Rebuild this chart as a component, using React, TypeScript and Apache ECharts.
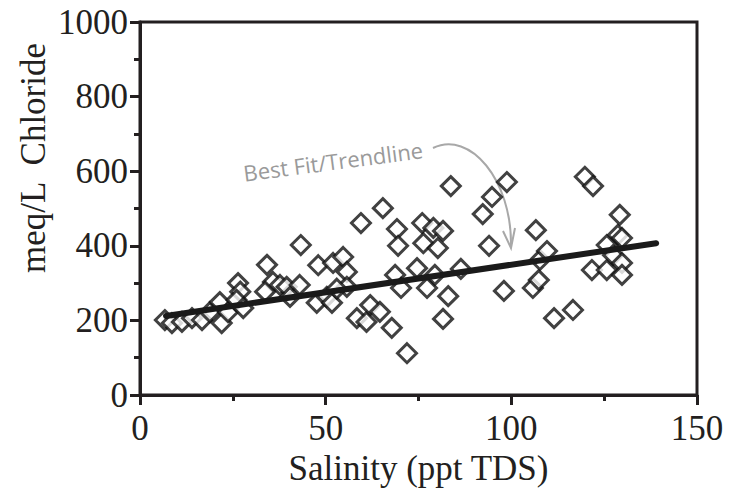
import React, { useEffect, useRef } from "react";
import * as echarts from "echarts";

const salinity = [
  6.7, 8.6, 11.3, 14, 16.7, 18.8, 21.5, 22, 23.7, 26.4, 27, 26, 27.8, 34.2, 35.8, 33.7, 37.7,
  39.5, 40.4, 43, 43.3, 47.6, 48, 50.3, 51.7, 52, 54.7, 55.7, 55.7, 53, 58.4, 59.5, 61, 62,
  64.6, 65.4, 67.8, 68.7, 69.2, 69.5, 70.3, 71.9, 74.6, 76, 76.3, 77.3, 79, 79.4, 80.2, 81.6,
  81.6, 83, 83.7, 86.4, 92.3, 94, 94.8, 98, 98.8, 105.8, 106.6, 107.4, 107.7, 109.6, 111.5,
  116.6, 119.8, 122, 121.7, 125.7, 125.7, 127.4, 128.7, 129.8, 129.2, 129.8, 129.8,
];
const chloride = [
  201, 193, 196, 206, 201, 222, 249, 193, 222, 300, 277, 255, 233, 349, 303, 277, 295,
  290, 263, 295, 402, 247, 348, 263, 247, 354, 370, 330, 290, 285, 206, 461, 196, 241,
  223, 501, 180, 322, 445, 400, 287, 112, 340, 461, 407, 287, 448, 322, 394, 440,
  204, 265, 560, 338, 485, 400, 531, 279, 571, 287, 442, 308, 362, 386, 206,
  228, 585, 560, 335, 402, 335, 375, 429, 421, 483, 354, 322,
];
const trendX = [7, 139];
const trendY = [212, 407];

const INK = "#231f20";
const SERIF = "Liberation Serif";

export default function App() {
  const ref = useRef<HTMLDivElement>(null);
  useEffect(() => {
    document.body.style.margin = "0";
    if (!ref.current) return;
    const chart = echarts.init(ref.current, null, { renderer: "svg" });
    chart.setOption({
      animation: false,
      backgroundColor: "#ffffff",
      textStyle: { fontFamily: SERIF },
      grid: {
        left: 140,
        right: 42,
        top: 22,
        bottom: 99,
        show: true,
        borderColor: INK,
        borderWidth: 3,
        backgroundColor: "transparent",
      },
      xAxis: {
        type: "value",
        min: 0,
        max: 150,
        interval: 50,
        name: "Salinity (ppt TDS)",
        nameLocation: "middle",
        nameGap: 50,
        nameTextStyle: { fontFamily: SERIF, fontSize: 35, color: INK },
        axisLine: { show: true, lineStyle: { color: INK, width: 3 } },
        axisTick: { show: true, length: 10, lineStyle: { color: INK, width: 3 } },
        minorTick: { show: true, splitNumber: 2, length: 6, lineStyle: { color: INK, width: 3 } },
        splitLine: { show: false },
        minorSplitLine: { show: false },
        axisLabel: { fontFamily: SERIF, fontSize: 35, color: INK, margin: 16 },
      },
      yAxis: {
        type: "value",
        min: 0,
        max: 1000,
        interval: 200,
        axisLine: { show: true, lineStyle: { color: INK, width: 3 } },
        axisTick: { show: true, length: 10, lineStyle: { color: INK, width: 3 } },
        minorTick: { show: true, splitNumber: 2, length: 6, lineStyle: { color: INK, width: 3 } },
        splitLine: { show: false },
        minorSplitLine: { show: false },
        axisLabel: {
          fontFamily: SERIF,
          fontSize: 35,
          color: INK,
          margin: 12,
          formatter: (v: number) => String(v),
        },
      },
      series: [
        {
          type: "scatter",
          data: salinity.map((x, i) => [x, chloride[i]]),
          symbol: "diamond",
          symbolSize: 19,
          itemStyle: { color: "#ffffff", borderColor: "#111", borderWidth: 3 },
          z: 2,
        },
        {
          type: "line",
          data: trendX.map((x, i) => [x, trendY[i]]),
          showSymbol: false,
          symbol: "none",
          lineStyle: { color: "#1a1a1a", width: 6, cap: "round" },
          z: 3,
        },
      ],
      graphic: [
        {
          type: "text",
          x: 33,
          y: 158,
          rotation: Math.PI / 2,
          style: {
            text: "meq/L  Chloride",
            fontFamily: SERIF,
            fontSize: 35,
            fill: INK,
            align: "center",
            verticalAlign: "middle",
          },
        },
        {
          type: "text",
          x: 333,
          y: 161,
          rotation: 0.13,
          style: {
            text: "Best Fit/Trendline",
            fontFamily: "Open Sans",
            fontSize: 22,
            fill: "#9a9a9a",
            align: "center",
            verticalAlign: "middle",
          },
        },
        {
          type: "bezierCurve",
          shape: { x1: 433, y1: 148, cpx1: 470, cpy1: 130, cpx2: 512, cpy2: 180, x2: 511, y2: 246 },
          style: { stroke: "#a8a8a8", lineWidth: 2, fill: "none" },
        },
        {
          type: "polyline",
          shape: { points: [[503, 231], [511, 248], [515, 228]] },
          style: { stroke: "#a8a8a8", lineWidth: 2, fill: "none" },
        },
      ],
    });
    return () => chart.dispose();
  }, []);
  return <div ref={ref} style={{ width: 739, height: 494 }} />;
}
